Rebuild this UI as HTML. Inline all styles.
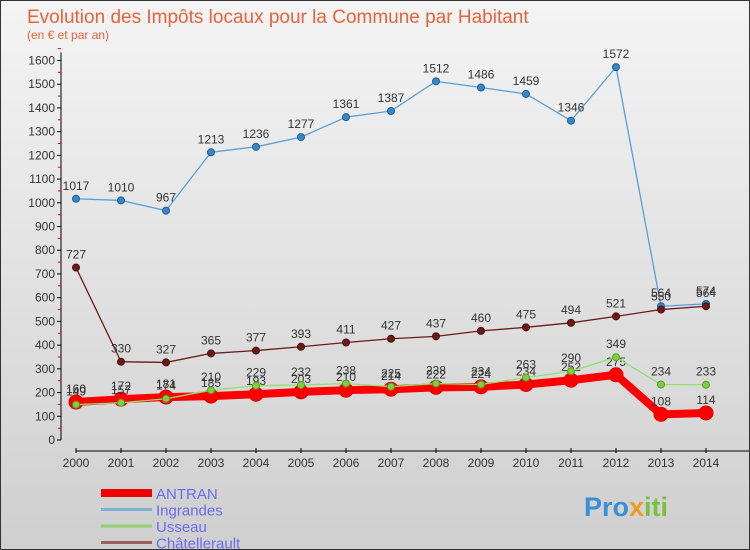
<!DOCTYPE html>
<html><head><meta charset="utf-8"><style>
body{margin:0;}
#c{width:748px;height:548px;border:1px solid #333;background:linear-gradient(#f4f4f4,#cfcfcf);position:relative;overflow:hidden;font-family:"Liberation Sans",sans-serif;}
</style></head><body>
<div id="c">
<svg id="s" width="748" height="548" xmlns="http://www.w3.org/2000/svg">
<text x="26" y="22" font-size="19" fill="#e8623c">Evolution des Impôts locaux pour la Commune par Habitant</text>
<text x="26" y="38" font-size="12" fill="#e8623c">(en € et par an)</text>
<g id="axes"></g><g id="series"></g><g id="legend"></g>
<text x="583" y="515" font-size="27" font-weight="bold" fill="#3a8fd8">Pro<tspan fill="#f29a1f">x</tspan><tspan fill="#7ac143">iti</tspan></text>
</svg></div>
<script>
const years=[2000,2001,2002,2003,2004,2005,2006,2007,2008,2009,2010,2011,2012,2013,2014];
const yTicks=[0,100,200,300,400,500,600,700,800,900,1000,1100,1200,1300,1400,1500,1600];
const antran=[160,172,181,185,193,203,210,214,222,224,234,252,275,108,114];
const ingrandes=[1017,1010,967,1213,1236,1277,1361,1387,1512,1486,1459,1346,1572,564,574];
const usseau=[149,157,174,210,229,232,238,225,238,234,263,290,349,234,233];
const chat=[727,330,327,365,377,393,411,427,437,460,475,494,521,550,564];
const NS="http://www.w3.org/2000/svg";
const X=i=>75+i*45, Y=v=>439-v*0.2372;
function mk(p,t,a){const e=document.createElementNS(NS,t);for(const k in a)e.setAttribute(k,a[k]);p.appendChild(e);return e;}
const ax=document.getElementById('axes');
let l=mk(ax,'line',{x1:60,y1:Y(1600)-8,x2:60,y2:Y(0),stroke:'#000'});


yTicks.forEach(v=>{
 mk(ax,'line',{x1:56,x2:60,y1:Y(v),y2:Y(v),stroke:'#000'});
 mk(ax,'line',{x1:57,x2:60,y1:Y(v+50),y2:Y(v+50),stroke:'#e00'});
 const t=mk(ax,'text',{x:54,y:Y(v)+4,'font-size':12,'text-anchor':'end',fill:'#333'});t.textContent=v;
 
 
});
l=mk(ax,'line',{x1:75,y1:450,x2:748,y2:450,stroke:'#000'});


years.forEach((y,i)=>{
 mk(ax,'line',{x1:X(i),x2:X(i),y1:447,y2:452,stroke:'#000'});
 const t=mk(ax,'text',{x:X(i),y:466,'font-size':12,'text-anchor':'middle',fill:'#333'});t.textContent=y;
 
 
});
const sg=document.getElementById('series');
function series(name,d,col,w,r,fill,ptStroke){
 const g=mk(sg,'g',{});
 
 
 mk(g,'polyline',{points:d.map((v,i)=>X(i)+','+Y(v)).join(' '),fill:'none',stroke:col,'stroke-width':w,'stroke-linejoin':'round'});
 d.forEach((v,i)=>{
  const c=mk(g,'circle',{cx:X(i),cy:Y(v),r:r,fill:fill,stroke:ptStroke,'stroke-width':1});
  
  
  const t=mk(g,'text',{x:X(i),y:Y(v)-9,'font-size':12,'text-anchor':'middle',fill:'#333'});t.textContent=v;
  
  
 });
}
series('ingrandes',ingrandes,'#5a9fd4',1.3,3.5,'#3a87c8','#1d5f96');
series('chatellerault',chat,'#6b1a1a',1.3,3.5,'#6b1a1a','#4a0d0d');
series('antran',antran,'#f00',8,7,'#f00','#d00');
series('usseau',usseau,'#90e070',1.3,3.5,'#7ed040','#5a9a2a');
const lg=document.getElementById('legend');
[['ANTRAN','#e00',8,'antran'],['Ingrandes','#7fb0d0',3,'ingrandes'],['Usseau','#90d070',3,'usseau'],['Châtellerault','#9a6060',3,'chatellerault']].forEach((e,i)=>{
 const y=492+i*16.5;
 const ln=mk(lg,'line',{x1:100,x2:151,y1:y,y2:y,stroke:e[1],'stroke-width':e[2]});
 
 
 const t=mk(lg,'text',{x:155,y:y+6,'font-size':15,fill:'#6b6bf0'});t.textContent=e[0];
 
 
});
</script>
</body></html>
